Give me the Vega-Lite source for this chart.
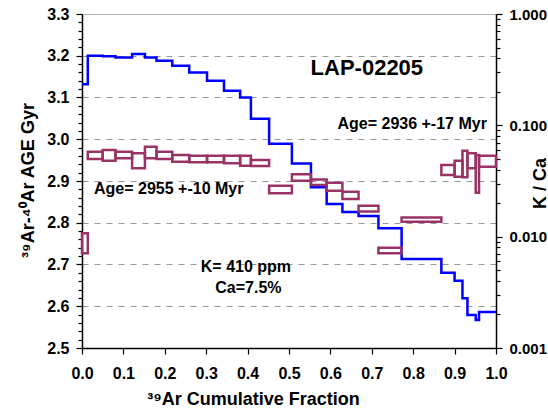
{
  "$schema": "https://vega.github.io/schema/vega-lite/v6.json",
  "width": 414,
  "height": 334,
  "autosize": {"type": "none"},
  "padding": {"left": 82, "top": 14, "right": 52, "bottom": 63},
  "background": "white",
  "config": {"view": {"stroke": null}, "font": "Liberation Sans"},
  "resolve": {"scale": {"y": "independent"}},
  "layer": [
    {
      "data": {"values": [
        {"frac": 0, "age": 3.132}, {"frac": 0.014, "age": 3.2}, {"frac": 0.05, "age": 3.199},
        {"frac": 0.081, "age": 3.196}, {"frac": 0.121, "age": 3.204}, {"frac": 0.152, "age": 3.196},
        {"frac": 0.18, "age": 3.188}, {"frac": 0.218, "age": 3.176}, {"frac": 0.259, "age": 3.16},
        {"frac": 0.302, "age": 3.14}, {"frac": 0.343, "age": 3.116}, {"frac": 0.382, "age": 3.1},
        {"frac": 0.408, "age": 3.049}, {"frac": 0.452, "age": 2.989}, {"frac": 0.507, "age": 2.942},
        {"frac": 0.553, "age": 2.885}, {"frac": 0.591, "age": 2.845}, {"frac": 0.629, "age": 2.826},
        {"frac": 0.668, "age": 2.816}, {"frac": 0.716, "age": 2.787}, {"frac": 0.772, "age": 2.713},
        {"frac": 0.868, "age": 2.68}, {"frac": 0.9, "age": 2.661}, {"frac": 0.919, "age": 2.619},
        {"frac": 0.931, "age": 2.579}, {"frac": 0.951, "age": 2.567}, {"frac": 0.959, "age": 2.586},
        {"frac": 1.0, "age": 2.586}
      ]},
      "mark": {"type": "line", "interpolate": "step-after", "color": "#0000FF", "strokeWidth": 2.5},
      "encoding": {
        "x": {
          "field": "frac", "type": "quantitative",
          "scale": {"domain": [0, 1], "nice": false, "zero": false},
          "axis": {
            "title": "³⁹Ar Cumulative Fraction",
            "titleFont": "Liberation Sans", "titleFontSize": 18, "titleFontWeight": "bold", "titleColor": "black",
            "titleX": 171, "titleY": 56, "titleAlign": "center", "titleBaseline": "alphabetic",
            "values": [0, 0.05, 0.1, 0.15, 0.2, 0.25, 0.3, 0.35, 0.4, 0.45, 0.5, 0.55, 0.6, 0.65, 0.7, 0.75, 0.8, 0.85, 0.9, 0.95, 1.0],
            "labelExpr": "abs(datum.value*10 - round(datum.value*10)) < 0.001 ? format(datum.value, '.1f') : ''",
            "labelFont": "Liberation Sans", "labelFontSize": 16, "labelFontWeight": "bold", "labelColor": "black",
            "labelPadding": 11, "labelFlush": false, "labelOverlap": false,
            "tickColor": "black", "tickWidth": 1.2,
            "tickSize": {"condition": {"test": "abs(datum.value*10 - round(datum.value*10)) < 0.001", "value": 6}, "value": 4},
            "domainColor": "black", "domainWidth": 1.5, "grid": false
          }
        },
        "y": {
          "field": "age", "type": "quantitative",
          "scale": {"domain": [2.5, 3.3], "nice": false, "zero": false},
          "axis": {
            "orient": "left",
            "title": "³⁹Ar-⁴⁰Ar AGE Gyr",
            "titleFont": "Liberation Sans", "titleFontSize": 18, "titleFontWeight": "bold", "titleColor": "black",
            "titleAngle": -90, "titleX": -49, "titleY": 166, "titleAlign": "center", "titleBaseline": "alphabetic",
            "values": [2.5, 2.52, 2.54, 2.56, 2.58, 2.6, 2.62, 2.64, 2.66, 2.68, 2.7, 2.72, 2.74, 2.76, 2.78, 2.8, 2.82, 2.84, 2.86, 2.88, 2.9, 2.92, 2.94, 2.96, 2.98, 3.0, 3.02, 3.04, 3.06, 3.08, 3.1, 3.12, 3.14, 3.16, 3.18, 3.2, 3.22, 3.24, 3.26, 3.28, 3.3],
            "labelExpr": "abs(datum.value*10 - round(datum.value*10)) < 0.001 ? format(datum.value, '.1f') : ''",
            "labelFont": "Liberation Sans", "labelFontSize": 16, "labelFontWeight": "bold", "labelColor": "black",
            "labelPadding": 7, "labelOverlap": false, "labelFlush": false,
            "tickColor": "black", "tickWidth": 1.2,
            "tickSize": {"condition": {"test": "abs(datum.value*10 - round(datum.value*10)) < 0.001", "value": 6}, "value": 4},
            "domainColor": "black", "domainWidth": 1.5,
            "grid": true, "gridColor": "#999999", "gridWidth": 1,
            "gridDash": {"condition": {"test": "datum.value > 3.29", "value": [1, 0]}, "value": [6, 6]},
            "gridOpacity": {"condition": {"test": "abs(datum.value*10 - round(datum.value*10)) < 0.001 && datum.value > 2.55", "value": 1}, "value": 0}
          }
        }
      }
    },
    {
      "layer": [
        {
          "data": {"values": [
            {"x0": 0, "x1": 0.014, "lo": 0.00709, "hi": 0.01072},
            {"x0": 0.014, "x1": 0.05, "lo": 0.0498, "hi": 0.058},
            {"x0": 0.05, "x1": 0.081, "lo": 0.0481, "hi": 0.06},
            {"x0": 0.081, "x1": 0.121, "lo": 0.0506, "hi": 0.058},
            {"x0": 0.121, "x1": 0.152, "lo": 0.0411, "hi": 0.0561},
            {"x0": 0.152, "x1": 0.18, "lo": 0.0506, "hi": 0.0643},
            {"x0": 0.18, "x1": 0.218, "lo": 0.0498, "hi": 0.058},
            {"x0": 0.218, "x1": 0.259, "lo": 0.0471, "hi": 0.0541},
            {"x0": 0.259, "x1": 0.302, "lo": 0.0466, "hi": 0.0534},
            {"x0": 0.302, "x1": 0.343, "lo": 0.0466, "hi": 0.0534},
            {"x0": 0.343, "x1": 0.382, "lo": 0.0456, "hi": 0.0534},
            {"x0": 0.382, "x1": 0.408, "lo": 0.0434, "hi": 0.0534},
            {"x0": 0.408, "x1": 0.452, "lo": 0.0431, "hi": 0.0488},
            {"x0": 0.452, "x1": 0.507, "lo": 0.0245, "hi": 0.0287},
            {"x0": 0.507, "x1": 0.553, "lo": 0.0318, "hi": 0.0363},
            {"x0": 0.553, "x1": 0.591, "lo": 0.0291, "hi": 0.0327},
            {"x0": 0.591, "x1": 0.629, "lo": 0.0259, "hi": 0.0305},
            {"x0": 0.629, "x1": 0.668, "lo": 0.0218, "hi": 0.0253},
            {"x0": 0.668, "x1": 0.716, "lo": 0.0168, "hi": 0.019},
            {"x0": 0.716, "x1": 0.772, "lo": 0.00709, "hi": 0.00796},
            {"x0": 0.772, "x1": 0.868, "lo": 0.0136, "hi": 0.0149},
            {"x0": 0.868, "x1": 0.9, "lo": 0.0358, "hi": 0.044},
            {"x0": 0.9, "x1": 0.919, "lo": 0.0346, "hi": 0.0481},
            {"x0": 0.919, "x1": 0.931, "lo": 0.0341, "hi": 0.0592},
            {"x0": 0.931, "x1": 0.951, "lo": 0.0411, "hi": 0.0561},
            {"x0": 0.951, "x1": 0.959, "lo": 0.0248, "hi": 0.0541},
            {"x0": 0.959, "x1": 1.0, "lo": 0.0425, "hi": 0.0534}
          ]},
          "mark": {"type": "rect", "fillOpacity": 0, "stroke": "#993366", "strokeWidth": 2.5},
          "encoding": {
            "x": {"field": "x0", "type": "quantitative"},
            "x2": {"field": "x1"},
            "y": {
              "field": "lo", "type": "quantitative",
              "scale": {"type": "log", "domain": [0.001, 1], "nice": false},
              "axis": {
                "orient": "right",
                "title": "K / Ca",
                "titleFont": "Liberation Sans", "titleFontSize": 18, "titleFontWeight": "bold", "titleColor": "black",
                "titleAngle": -90, "titleX": 49, "titleY": 169, "titleAlign": "center", "titleBaseline": "alphabetic",
                "values": [0.001, 0.002, 0.003, 0.004, 0.005, 0.006, 0.007, 0.008, 0.009, 0.01, 0.02, 0.03, 0.04, 0.05, 0.06, 0.07, 0.08, 0.09, 0.1, 0.2, 0.3, 0.4, 0.5, 0.6, 0.7, 0.8, 0.9, 1],
                "labelExpr": "abs(log(datum.value)/LN10 - round(log(datum.value)/LN10)) < 0.001 ? format(datum.value, '.3f') : ''",
                "labelFont": "Liberation Sans", "labelFontSize": 15, "labelFontWeight": "bold", "labelColor": "black",
                "labelPadding": 7, "labelOverlap": false, "labelFlush": false,
                "tickColor": "black", "tickWidth": 1.2,
                "tickSize": {"condition": {"test": "abs(log(datum.value)/LN10 - round(log(datum.value)/LN10)) < 0.001", "value": 6}, "value": 4},
                "domainColor": "black", "domainWidth": 1.5, "grid": false
              }
            },
            "y2": {"field": "hi"}
          }
        },
        {
          "data": {"values": [{"frac": 0.688, "kca": 0.2831, "label": "LAP-02205"}]},
          "mark": {"type": "text", "align": "center", "baseline": "alphabetic", "font": "Liberation Sans", "fontSize": 22, "fontWeight": "bold", "color": "black"},
          "encoding": {
            "x": {"field": "frac", "type": "quantitative"},
            "y": {"field": "kca", "type": "quantitative"},
            "text": {"field": "label"}
          }
        },
        {
          "data": {"values": [{"frac": 0.978, "kca": 0.0927, "label": "Age= 2936 +-17 Myr"}]},
          "mark": {"type": "text", "align": "right", "baseline": "alphabetic", "font": "Liberation Sans", "fontSize": 16, "fontWeight": "bold", "color": "black"},
          "encoding": {
            "x": {"field": "frac", "type": "quantitative"},
            "y": {"field": "kca", "type": "quantitative"},
            "text": {"field": "label"}
          }
        },
        {
          "data": {"values": [{"frac": 0.029, "kca": 0.02416, "label": "Age= 2955 +-10 Myr"}]},
          "mark": {"type": "text", "align": "left", "baseline": "alphabetic", "font": "Liberation Sans", "fontSize": 16, "fontWeight": "bold", "color": "black"},
          "encoding": {
            "x": {"field": "frac", "type": "quantitative"},
            "y": {"field": "kca", "type": "quantitative"},
            "text": {"field": "label"}
          }
        },
        {
          "data": {"values": [
            {"frac": 0.396, "kca": 0.004845, "label": "K= 410 ppm"},
            {"frac": 0.402, "kca": 0.003139, "label": "Ca=7.5%"}
          ]},
          "mark": {"type": "text", "align": "center", "baseline": "alphabetic", "font": "Liberation Sans", "fontSize": 16, "fontWeight": "bold", "color": "black"},
          "encoding": {
            "x": {"field": "frac", "type": "quantitative"},
            "y": {"field": "kca", "type": "quantitative"},
            "text": {"field": "label"}
          }
        }
      ]
    }
  ]
}
